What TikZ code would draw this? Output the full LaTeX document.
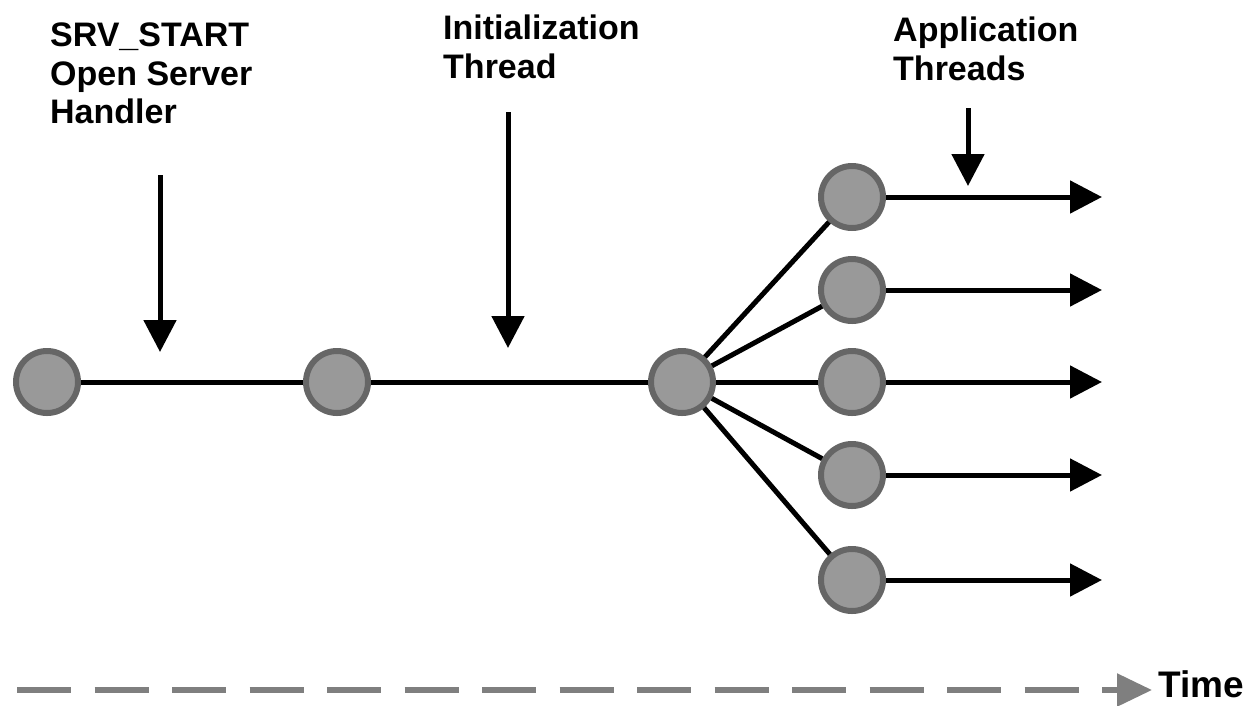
\documentclass[tikz,border=0pt]{standalone}
\usepackage{fontspec}
\setmainfont{Liberation Sans}
\usetikzlibrary{arrows.meta}
\definecolor{discfill}{HTML}{999999}
\definecolor{discedge}{HTML}{666666}
\definecolor{timegray}{HTML}{7F7F7F}
\begin{document}
\begin{tikzpicture}[x=1pt,y=-1pt,
  disc/.style={circle, fill=discfill, draw=discedge, line width=6pt,
               minimum size=62pt, inner sep=0pt},
  link/.style={line width=5pt},
  flow/.style={line width=5pt, -{Triangle[length=32pt,width=32pt]}},
  heading/.style={font=\bfseries\fontsize{34}{38.5}\selectfont, align=left,
                  anchor=north west, inner sep=0pt},
  timeline/.style={timegray, line width=5.5pt, dash pattern=on 54pt off 23.5pt,
                   -{Triangle[length=35pt,width=32pt]}}
]
\useasboundingbox (0,0) rectangle (1255,705);

% thread states
\node[disc] (s0) at (47,382) {};
\node[disc] (s1) at (337,382) {};
\node[disc] (s2) at (682,382) {};
\node[disc] (t1) at (852,197) {};
\node[disc] (t2) at (852,290) {};
\node[disc] (t3) at (852,382) {};
\node[disc] (t4) at (852,475) {};
\node[disc] (t5) at (852,580) {};

% main line and fan-out
\draw[link] (s0) -- (s1);
\draw[link] (s1) -- (s2);
\foreach \t in {t1,t2,t3,t4,t5} \draw[link] (s2) -- (\t);

% running application threads
\coordinate (e1) at (1102,197);
\coordinate (e2) at (1102,290);
\coordinate (e3) at (1102,382);
\coordinate (e4) at (1102,475);
\coordinate (e5) at (1102,580);
\draw[flow] (t1) -- (e1);
\draw[flow] (t2) -- (e2);
\draw[flow] (t3) -- (e3);
\draw[flow] (t4) -- (e4);
\draw[flow] (t5) -- (e5);

% labels and pointers
\node[heading] (h1) at (50,23) {SRV\_START\\Open Server\\Handler};
\node[heading] (h2) at (443,15) {Initialization\\Thread};
\node[heading] (h3) at (893,17) {Application\\Threads};

\coordinate (p1a) at (160,175);
\coordinate (p1b) at (160,352);
\coordinate (p2a) at (508,112);
\coordinate (p2b) at (508,348);
\coordinate (p3a) at (968,108);
\coordinate (p3b) at (968,186);
\draw[flow] (p1a) -- (p1b);
\draw[flow] (p2a) -- (p2b);
\draw[flow] (p3a) -- (p3b);

% time axis
\coordinate (d0) at (17,690);
\coordinate (d1) at (1152,690);
\draw[timeline] (d0) -- (d1);
\node[font=\bfseries\fontsize{37}{42}\selectfont, anchor=base west, inner sep=0pt]
  (time) at (1158,697) {Time};
\end{tikzpicture}
\end{document}
